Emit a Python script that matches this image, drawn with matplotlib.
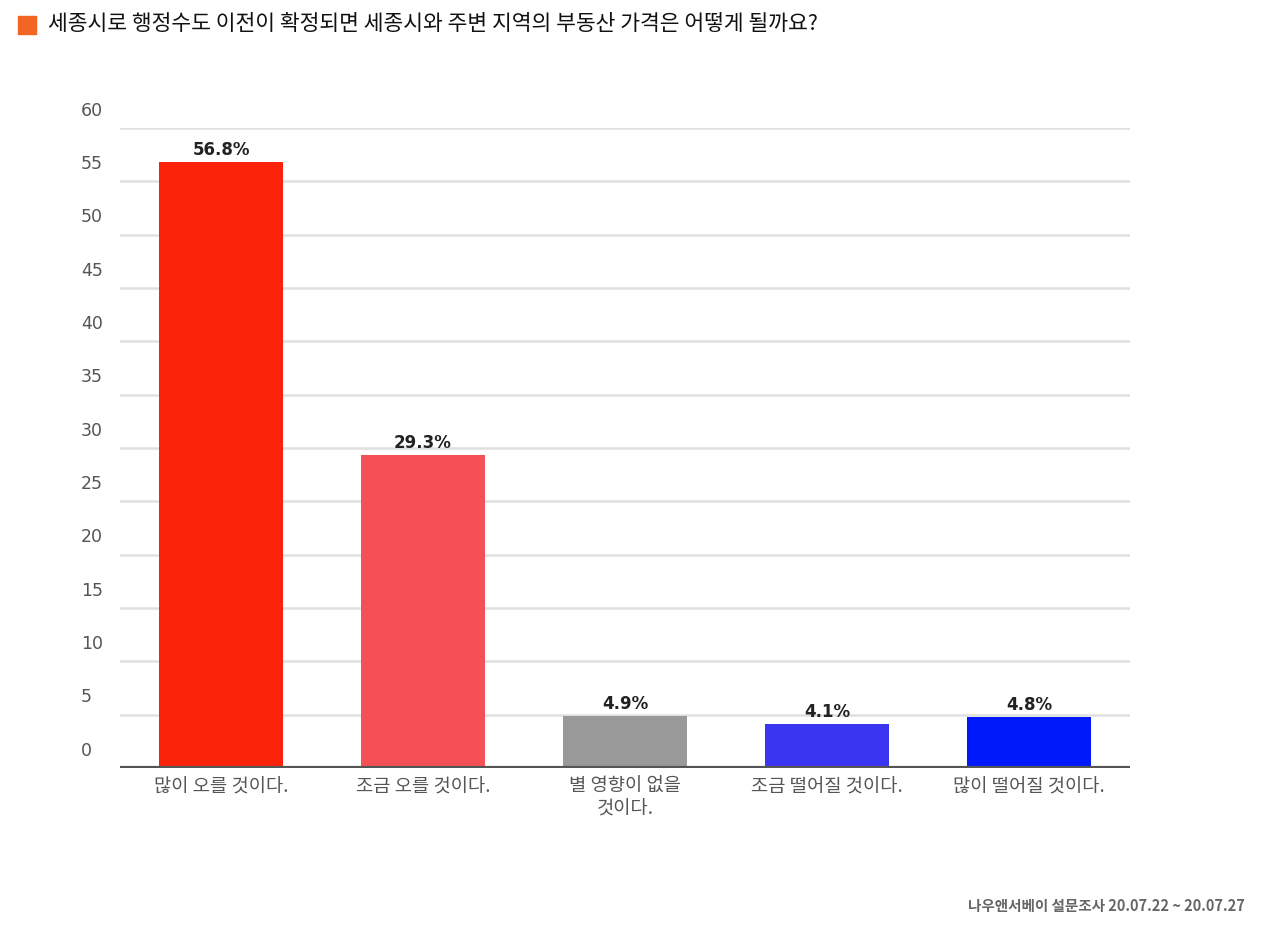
import matplotlib.pyplot as plt
from matplotlib.patches import Rectangle
from matplotlib.transforms import offset_copy

plt.rcParams['font.family'] = 'Noto Sans CJK KR'

title = "세종시로 행정수도 이전이 확정되면 세종시와 주변 지역의 부동산 가격은 어떻게 될까요?"
categories = ["많이 오를 것이다.", "조금 오를 것이다.", "별 영향이 없을\n것이다.",
              "조금 떨어질 것이다.", "많이 떨어질 것이다."]
values = [56.8, 29.3, 4.9, 4.1, 4.8]
colors = ["#FA230A", "#F55055", "#999999", "#3A35F0", "#0019FA"]
yticks = list(range(0, 61, 5))
source = "나우앤서베이 설문조사 20.07.22 ~ 20.07.27"

W, H = 1286, 927
fig = plt.figure(figsize=(W / 100, H / 100), dpi=100)
ax = fig.add_axes([120 / W, 1 - 768 / H, 1010 / W, (768 - 128) / H])

x = range(len(values))
ax.bar(x, values, width=0.61, color=colors, zorder=3)
for i, v in zip(x, values):
    ax.text(i, v + 0.3, f"{v}%", ha='center', va='bottom', fontsize=12,
            fontweight='bold', color='#222222', family='DejaVu Sans')

ax.set_xlim(-0.5, len(values) - 0.5)
ax.set_ylim(0, 60)
for t in yticks:
    if t > 0:
        ax.axhline(t, color='#e0e0e0', lw=1.8, zorder=1)
ax.axhline(0, color='#555555', lw=3, zorder=4)

# y labels sit above their gridlines, left-aligned
trans = offset_copy(ax.get_yaxis_transform(), fig=fig, x=-28, y=6, units='points')
for t in yticks:
    ax.text(0, t, str(t), transform=trans, ha='left', va='bottom', fontsize=12.5,
            color='#555555', family='DejaVu Sans')

ax.set_xticks(list(x))
ax.set_xticklabels(categories, fontsize=13.5, color='#555555', linespacing=1.1)
ax.tick_params(axis='x', length=0, pad=6)
ax.set_yticks([])
for s in ax.spines.values():
    s.set_visible(False)

fig.patches.append(Rectangle((18 / W, 1 - 34 / H), 18 / W, 18 / H,
                             transform=fig.transFigure, color='#F26522'))
fig.text(48 / W, 1 - 24 / H, title, fontsize=15.5, va='center', color='#111111')
fig.text(1245 / W, 1 - 906 / H, source, fontsize=10.5, ha='right', va='center',
         color='#666666', fontweight='bold')

fig.savefig("out.png", dpi=100)
